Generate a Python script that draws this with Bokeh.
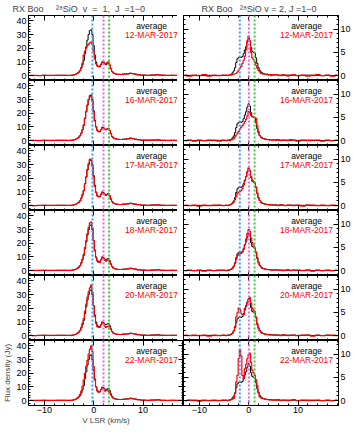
from bokeh.plotting import figure
from bokeh.models import (LinearAxis, SingleIntervalTicker, Range1d, Label, Span, Title,
                          CustomLabelingPolicy)
from bokeh.layouts import gridplot
from bokeh.embed import file_html
from bokeh.resources import INLINE

# ---------------- data ----------------
VEL = [-13, -12, -11, -10, -9, -8, -7, -6, -5,
       -4.5, -4.25, -4, -3.75, -3.5, -3.25, -3, -2.75, -2.5, -2.25, -2, -1.75, -1.5, -1.25,
       -1, -0.75, -0.5, -0.25, 0, 0.25, 0.5, 0.75, 1, 1.25, 1.5, 1.75, 2, 2.25, 2.5, 2.75,
       3, 3.25, 3.5, 3.75, 4, 4.25, 4.5, 4.75, 5,
       5.5, 6, 6.5, 7, 7.5, 8, 8.5, 9, 10, 11, 12, 13, 14, 15, 16, 17, 18]

DATES = ["12-MAR-2017", "16-MAR-2017", "17-MAR-2017", "18-MAR-2017", "20-MAR-2017", "22-MAR-2017"]

# v=1 (left column)
AVG_V1 = [0.1, 0.0, 0.1, 0.2, 0.1, 0.1, 0.2, 0.2, 0.1,
          0.2, 0.3, 0.5, 0.8, 1.2, 1.8, 2.5, 3.5, 5.5, 8.0, 11.0, 16.0, 21.0, 26.0, 30.0, 33.0, 33.5, 30.0,
          22.0, 15.0, 10.0, 7.5, 6.5, 6.5, 8.0, 9.8, 9.5, 8.5, 8.0, 8.5, 9.0, 7.5, 5.0, 3.0, 2.0, 1.5, 1.2, 1.0, 0.9,
          0.8, 1.0, 1.1, 1.3, 1.7, 1.4, 1.0, 0.6, 0.3, 0.2, 0.4, 0.5, 0.2, 0.1, 0.2, 0.1, 0.1]
V1_12MAR = [0.2, 0.1, 0.0, 0.1, 0.2, 0.1, 0.1, 0.2, 0.2,
            0.2, 0.3, 0.5, 0.8, 1.2, 1.8, 2.6, 3.8, 6.0, 9.0, 15.0, 18.0, 20.0, 22.0, 23.0, 24.0, 24.5, 23.0,
            18.0, 12.0, 8.5, 7.0, 6.5, 7.0, 8.5, 10.0, 10.0, 9.0, 8.5, 9.5, 10.0, 8.0, 5.0, 3.0, 2.0, 1.5, 1.2, 1.0, 0.9,
            0.9, 1.0, 1.2, 1.2, 1.6, 1.5, 1.0, 0.5, 0.4, 0.2, 0.3, 0.5, 0.3, 0.1, 0.1, 0.2, 0.1]
V1_16MAR = [0.1, 0.1, 0.0, 0.2, 0.1, 0.2, 0.1, 0.2, 0.1,
            0.2, 0.3, 0.5, 0.8, 1.2, 1.8, 2.5, 3.6, 5.5, 8.0, 11.5, 16.5, 21.5, 26.0, 30.0, 32.5, 32.0, 29.0,
            21.0, 14.5, 10.0, 7.5, 6.5, 6.5, 8.0, 9.5, 9.0, 8.5, 8.0, 8.5, 9.0, 7.5, 5.0, 3.0, 2.0, 1.5, 1.2, 1.0, 0.9,
            0.8, 0.9, 1.1, 1.3, 1.8, 1.4, 0.9, 0.6, 0.3, 0.3, 0.4, 0.4, 0.2, 0.2, 0.1, 0.1, 0.1]
V1_17MAR = [0.1, 0.0, 0.1, 0.1, 0.2, 0.1, 0.2, 0.1, 0.2,
            0.2, 0.3, 0.5, 0.8, 1.2, 1.7, 2.4, 3.4, 5.3, 7.8, 11.0, 16.0, 21.0, 26.5, 31.0, 34.0, 33.0, 29.0,
            21.0, 14.0, 9.5, 7.0, 6.5, 6.5, 8.5, 10.0, 9.0, 8.0, 7.5, 8.0, 8.5, 7.0, 4.5, 2.8, 1.8, 1.4, 1.1, 1.0, 0.8,
            0.8, 1.0, 1.0, 1.2, 1.6, 1.3, 1.0, 0.6, 0.3, 0.2, 0.3, 0.5, 0.2, 0.1, 0.2, 0.1, 0.1]
V1_18MAR = [0.1, 0.1, 0.1, 0.2, 0.1, 0.1, 0.2, 0.2, 0.1,
            0.2, 0.3, 0.5, 0.8, 1.2, 1.8, 2.6, 3.6, 5.8, 8.5, 12.0, 17.0, 22.0, 27.0, 31.5, 35.0, 35.5, 31.0,
            22.0, 14.5, 9.5, 7.0, 6.0, 6.0, 8.0, 10.0, 9.0, 7.5, 7.0, 7.5, 8.0, 6.5, 4.5, 2.8, 1.8, 1.4, 1.1, 0.9, 0.8,
            0.8, 0.9, 1.1, 1.2, 1.6, 1.4, 1.0, 0.5, 0.3, 0.2, 0.4, 0.5, 0.2, 0.1, 0.1, 0.2, 0.1]
V1_20MAR = [0.1, 0.0, 0.1, 0.1, 0.1, 0.2, 0.1, 0.2, 0.2,
            0.2, 0.3, 0.5, 0.8, 1.2, 1.8, 2.6, 3.8, 6.0, 9.0, 12.5, 18.0, 23.0, 28.0, 32.0, 35.0, 37.0, 32.0,
            22.0, 14.0, 9.0, 6.5, 6.0, 6.0, 8.0, 10.0, 9.0, 7.0, 6.0, 6.5, 7.0, 6.5, 4.5, 2.8, 1.8, 1.4, 1.1, 0.9, 0.8,
            0.8, 1.0, 1.1, 1.3, 1.7, 1.4, 1.0, 0.6, 0.3, 0.2, 0.3, 0.4, 0.2, 0.1, 0.2, 0.1, 0.1]
V1_22MAR = [0.2, 0.1, 0.1, 0.2, 0.1, 0.1, 0.2, 0.2, 0.2,
            0.2, 0.3, 0.5, 0.9, 1.3, 2.0, 3.0, 4.5, 7.0, 10.5, 15.0, 20.0, 25.0, 29.5, 34.0, 37.5, 40.0, 36.0,
            25.0, 16.0, 10.0, 7.0, 6.0, 6.5, 8.0, 9.5, 8.5, 7.0, 7.5, 8.0, 7.0, 6.0, 4.0, 2.5, 1.7, 1.3, 1.1, 0.9, 0.8,
            0.8, 0.9, 1.1, 1.2, 1.6, 1.4, 1.0, 0.6, 0.3, 0.2, 0.4, 0.5, 0.2, 0.1, 0.1, 0.1, 0.1]

# v=2 (right column)
AVG_V2 = [0.0, 0.05, 0.0, 0.05, 0.0, 0.05, 0.0, 0.05, 0.05,
          0.05, 0.05, 0.1, 0.15, 0.3, 0.6, 1.0, 1.7, 2.8, 3.6, 3.9, 3.9, 3.9, 4.1, 4.7, 5.5, 6.2, 7.2,
          7.9, 7.4, 6.0, 5.2, 5.0, 4.8, 3.8, 2.6, 1.7, 1.1, 0.8, 0.6, 0.45, 0.35, 0.3, 0.25, 0.25, 0.2, 0.2, 0.15, 0.15,
          0.15, 0.1, 0.1, 0.1, 0.05, 0.1, 0.05, 0.1, 0.05, 0.05, 0.1, 0.0, 0.05, 0.0, 0.05, 0.0, 0.05]
V2_12MAR = [0.1, -0.1, 0.1, 0.0, 0.2, -0.1, 0.1, 0.0, 0.1,
            0.1, 0.0, 0.1, 0.2, 0.1, 0.2, 0.3, 0.4, 0.5, 0.8, 1.2, 1.6, 2.0, 2.6, 3.3, 4.2, 5.5, 7.5,
            8.5, 7.5, 5.0, 3.8, 3.4, 2.9, 2.2, 1.6, 1.1, 0.8, 0.5, 0.4, 0.3, 0.3, 0.2, 0.3, 0.1, 0.2, 0.0, 0.2, 0.1,
            0.2, 0.1, 0.0, 0.2, 0.1, -0.1, 0.1, 0.2, 0.0, 0.1, -0.1, 0.1, 0.2, 0.0, 0.1, -0.1, 0.1]
V2_16MAR = [0.0, 0.1, -0.1, 0.1, 0.0, 0.1, 0.1, -0.1, 0.1,
            0.0, 0.1, 0.1, 0.0, 0.2, 0.2, 0.4, 0.8, 1.2, 1.6, 2.0, 2.5, 2.9, 3.2, 3.6, 4.1, 4.6, 5.3,
            6.2, 6.0, 5.4, 5.1, 5.1, 5.0, 4.8, 3.2, 2.0, 1.1, 0.7, 0.5, 0.4, 0.3, 0.3, 0.2, 0.2, 0.1, 0.2, 0.1, 0.1,
            0.1, 0.2, 0.0, 0.1, 0.1, 0.0, 0.2, 0.1, -0.1, 0.1, 0.0, 0.1, 0.1, -0.1, 0.1, 0.0, 0.1]
V2_17MAR = [0.1, 0.0, 0.1, -0.1, 0.1, 0.0, 0.1, 0.1, 0.0,
            0.1, 0.0, 0.1, 0.2, 0.3, 0.5, 0.8, 1.3, 2.0, 2.6, 2.9, 3.0, 3.2, 3.6, 4.4, 5.3, 6.3, 7.3,
            8.1, 7.6, 6.2, 5.5, 5.2, 5.0, 4.0, 2.7, 1.7, 1.1, 0.7, 0.5, 0.4, 0.3, 0.3, 0.2, 0.2, 0.1, 0.2, 0.1, 0.1,
            0.1, 0.0, 0.2, 0.1, 0.0, 0.1, 0.1, 0.0, 0.1, -0.1, 0.1, 0.1, 0.0, 0.1, 0.0, 0.1, 0.0]
V2_18MAR = [0.0, 0.1, 0.0, 0.1, -0.1, 0.1, 0.0, 0.1, 0.1,
            0.0, 0.1, 0.1, 0.2, 0.3, 0.5, 0.9, 1.5, 2.4, 3.2, 3.5, 3.6, 3.7, 4.0, 4.6, 5.6, 6.8, 8.0,
            8.8, 8.5, 7.0, 6.0, 5.5, 5.0, 4.0, 2.8, 1.8, 1.2, 0.8, 0.5, 0.4, 0.3, 0.3, 0.2, 0.2, 0.2, 0.1, 0.1, 0.1,
            0.2, 0.1, 0.1, 0.0, 0.1, 0.2, 0.0, 0.1, 0.1, 0.0, 0.1, -0.1, 0.1, 0.0, 0.1, 0.0, 0.1]
V2_20MAR = [0.1, 0.0, 0.1, 0.0, 0.1, -0.1, 0.1, 0.0, 0.1,
            0.0, 0.1, 0.1, 0.2, 0.3, 0.5, 1.0, 2.0, 4.0, 4.9, 5.9, 5.6, 4.8, 4.5, 4.5, 5.9, 6.5, 7.0,
            7.8, 8.2, 7.0, 5.9, 5.4, 5.2, 4.0, 2.4, 1.6, 1.0, 0.7, 0.5, 0.4, 0.3, 0.3, 0.2, 0.2, 0.1, 0.2, 0.1, 0.1,
            0.1, 0.1, 0.0, 0.2, 0.1, 0.0, 0.1, 0.1, 0.0, 0.1, 0.1, -0.1, 0.1, 0.0, 0.1, 0.1, 0.0]
V2_22MAR = [0.0, 0.1, 0.1, -0.1, 0.1, 0.0, 0.1, 0.0, 0.1,
            0.1, 0.0, 0.1, 0.1, 0.2, 0.3, 0.5, 1.5, 4.0, 5.4, 9.0, 11.0, 9.6, 5.4, 4.7, 6.8, 7.8, 9.0,
            9.8, 10.2, 8.2, 6.5, 6.0, 5.4, 4.5, 3.3, 1.8, 0.8, 0.6, 0.5, 0.4, 0.3, 0.3, 0.2, 0.2, 0.1, 0.2, 0.1, 0.1,
            0.1, 0.2, 0.0, 0.1, 0.1, 0.0, 0.1, 0.2, 0.0, 0.1, 0.0, 0.1, 0.1, 0.0, 0.1, 0.0, 0.1]

REDS_V1 = [V1_12MAR, V1_16MAR, V1_17MAR, V1_18MAR, V1_20MAR, V1_22MAR]
REDS_V2 = [V2_12MAR, V2_16MAR, V2_17MAR, V2_18MAR, V2_20MAR, V2_22MAR]

# reference velocities (dotted vertical lines): blue, magenta, green
VLINES_V1 = [-0.25, 2.0, 3.1]
VLINES_V2 = [-1.8, 0.05, 1.2]
VLINE_COLORS = ["#3d9bff", "#e066ee", "#3ccc3c"]

NB = "\u00a0"
TITLES = ["RX Boo" + NB * 5 + "\u00b2\u2078SiO" + NB * 2 + "v" + NB * 2 + "=" + NB * 2 + "1," + NB * 2 + "J" + NB * 2 + "=1\u22120",
          "RX Boo" + NB * 3 + "\u00b2\u2078SiO v = 2, J =1\u22120"]
X_LABEL = "V LSR (km/s)"
Y_LABEL = "Flux density (Jy)"

X_RANGE = (-13.2, 18.2)
Y_RANGE_V1 = (-3.6, 44.0)
Y_RANGE_V2 = (-1.05, 12.9)

FONT = "Liberation Sans"
FRAME_W = 155
FRAME_H = 65

HIDE_LABELS = "for (let i = 0; i < indices.size; i++) { indices.set(i, false) }\nreturn indices"


def style_axis(ax, ticker, show_labels, overrides=None):
    ax.ticker = ticker
    ax.axis_line_color = "black"
    ax.axis_line_width = 1
    ax.major_tick_in = 5
    ax.major_tick_out = 0
    ax.minor_tick_in = 2
    ax.minor_tick_out = 0
    ax.major_tick_line_color = "black"
    ax.minor_tick_line_color = "black"
    ax.major_label_text_font = FONT
    ax.major_label_text_color = "black"
    if show_labels:
        ax.major_label_text_font_size = "9px"
        ax.major_label_standoff = 2
        if overrides:
            ax.major_label_overrides = overrides
    else:
        ax.major_label_text_font_size = "0px"
        ax.major_label_standoff = 0
        ax.major_label_policy = CustomLabelingPolicy(code=HIDE_LABELS)


def make_panel(col, row):
    first = row == 0
    last = row == 5
    yr = Y_RANGE_V1 if col == 0 else Y_RANGE_V2
    p = figure(frame_width=FRAME_W, frame_height=FRAME_H,
               x_range=Range1d(*X_RANGE), y_range=Range1d(*yr),
               output_backend="svg", toolbar_location=None,
               y_axis_location="left" if col == 0 else "right",
               min_border=0,
               min_border_left=22 if col == 0 else 0,
               min_border_right=0 if col == 0 else 14,
               min_border_top=14 if first else 0,
               min_border_bottom=24 if last else 0)
    p.grid.visible = False
    p.outline_line_color = "black"
    p.background_fill_color = "white"
    p.border_fill_color = "white"

    xt = lambda: SingleIntervalTicker(interval=10, num_minor_ticks=5)
    yint = 10 if col == 0 else 5
    yt = lambda: SingleIntervalTicker(interval=yint, num_minor_ticks=5)

    xaxis = p.below[0]
    yaxis = p.left[0] if col == 0 else p.right[0]
    style_axis(xaxis, xt(), last, {-10: "\u221210"})
    style_axis(yaxis, yt(), True)
    if last:
        xaxis.major_label_standoff = 1

    top = LinearAxis()
    style_axis(top, xt(), False)
    p.add_layout(top, "above")
    other = LinearAxis()
    style_axis(other, yt(), False)
    p.add_layout(other, "right" if col == 0 else "left")

    if last and col == 0:
        for ax, lab, sd in ((xaxis, X_LABEL, 0), (yaxis, Y_LABEL, 1)):
            ax.axis_label = lab
            ax.axis_label_text_font = FONT
            ax.axis_label_text_font_size = "8px"
            ax.axis_label_text_font_style = "normal"
            ax.axis_label_standoff = sd

    vlines = VLINES_V1 if col == 0 else VLINES_V2
    for loc, c in zip(vlines, VLINE_COLORS):
        p.add_layout(Span(location=loc, dimension="height", line_color=c,
                          line_width=2, line_dash="2 2"))

    avg = AVG_V1 if col == 0 else AVG_V2
    red = (REDS_V1 if col == 0 else REDS_V2)[row]
    p.step(VEL, avg, mode="center", line_color="black", line_width=1)
    p.step(VEL, red, mode="center", line_color="red", line_width=1.2)

    # texts in panel
    tx = FRAME_W - 32
    p.add_layout(Label(x=tx, y=FRAME_H - 10, x_units="screen", y_units="screen",
                       text="average", text_font=FONT, text_font_size="8.5px",
                       text_color="black", text_align="center", text_baseline="middle"))
    p.add_layout(Label(x=tx, y=FRAME_H - 19, x_units="screen", y_units="screen",
                       text=DATES[row], text_font=FONT, text_font_size="8.5px",
                       text_color="red", text_align="center", text_baseline="middle"))

    if first:
        t = Title(text=TITLES[col], text_font=FONT, text_font_size="9px",
                  text_font_style="normal", align="left",
                  offset=-16 if col == 0 else 18, standoff=3)
        p.add_layout(t, "above")
    return p


rows = [[make_panel(0, r), make_panel(1, r)] for r in range(6)]
grid = gridplot(rows, toolbar_location=None)

open("out.html", "w").write(file_html(grid, INLINE))
